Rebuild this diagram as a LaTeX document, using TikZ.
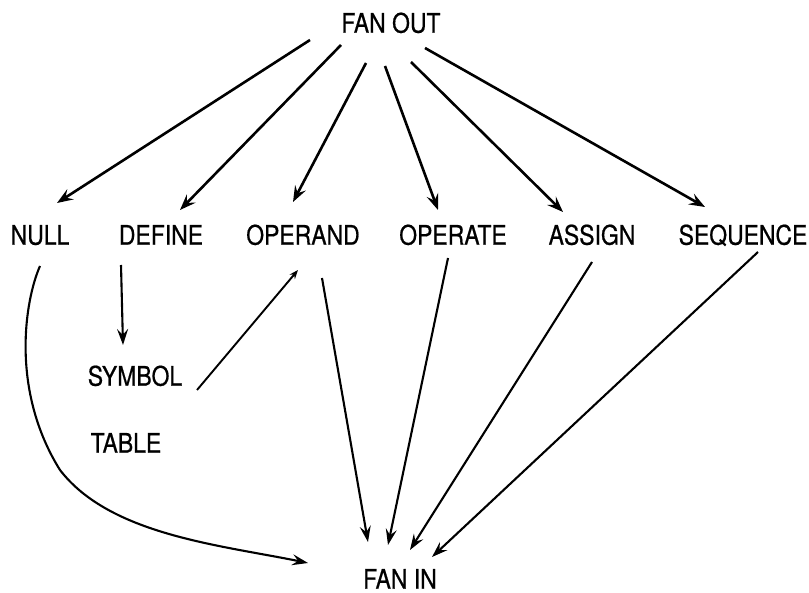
\documentclass[tikz,border=0pt]{standalone}
\usepackage{fontspec}
\setmainfont{TeX Gyre Heros}[FakeStretch=0.85,FakeBold=0.6]
\usetikzlibrary{arrows.meta}
\begin{document}
\begin{tikzpicture}[x=1pt,y=-1pt,
  lbl/.style={font=\fontsize{27}{27}\selectfont, inner sep=0pt, text height=19.4pt, text depth=0pt, anchor=center},
  fanline/.style={line width=2.6pt, -{Stealth[length=16pt,width=12pt,inset=6pt]}},
  flowline/.style={line width=2.1pt, -{Stealth[length=16pt,width=11pt,inset=6pt]}},
  smallhead/.style={line width=1.9pt, -{Stealth[length=9pt,width=7pt]}}]
  \useasboundingbox[fill=white] (0,0) rectangle (809,593);

  % labels
  \node[lbl] (fanout)   at (391,23)  {FAN OUT};
  \node[lbl] (null)     at (40,235)  {NULL};
  \node[lbl] (define)   at (161,235) {DEFINE};
  \node[lbl] (operand)  at (303,235) {OPERAND};
  \node[lbl] (operate)  at (453,235) {OPERATE};
  \node[lbl] (assign)   at (592,235) {ASSIGN};
  \node[lbl] (sequence) at (743,235) {SEQUENCE};
  \node[lbl] (symbol)   at (135,376) {SYMBOL};
  \node[lbl] (table)    at (126,443) {TABLE};
  \node[lbl] (fanin)    at (400,579) {FAN IN};

  % fan out to the six actions
  \draw[fanline] ([shift={(-81,17)}]fanout.center) -- ([shift={(17,-32)}]null.center);
  \draw[fanline] ([shift={(-50,22)}]fanout.center) -- ([shift={(19,-25)}]define.center);
  \draw[fanline] ([shift={(-25,40)}]fanout.center) -- ([shift={(-10,-33)}]operand.center);
  \draw[fanline] ([shift={(-6,43)}]fanout.center)  -- ([shift={(-15,-25)}]operate.center);
  \draw[fanline] ([shift={(20,39)}]fanout.center)  -- ([shift={(-29,-23)}]assign.center);
  \draw[fanline] ([shift={(34,25)}]fanout.center)  -- ([shift={(-38,-28)}]sequence.center);

  % symbol table links
  \draw[flowline] ([shift={(-40,30)}]define.center) -- ([shift={(-12,-31)}]symbol.center);
  \draw[smallhead] ([shift={(62,14)}]symbol.center) -- ([shift={(-5,35)}]operand.center);

  % actions to fan in
  \draw[flowline] ([shift={(19,43)}]operand.center) -- ([shift={(-32,-37)}]fanin.center);
  \draw[flowline] ([shift={(-5,23)}]operate.center) -- ([shift={(-12,-34)}]fanin.center);
  \draw[flowline] ([shift={(0,27)}]assign.center)   -- ([shift={(10,-29)}]fanin.center);
  \draw[flowline] ([shift={(15,17)}]sequence.center) -- ([shift={(32,-22)}]fanin.center);

  % null path curving round to fan in
  \draw[flowline] ([shift={(0,31)}]null.center)
      .. controls (25,300) and (10,390) .. (60,470)
      .. controls (110,535) and (220,545) .. ([shift={(-92,-16)}]fanin.center);
\end{tikzpicture}
\end{document}
